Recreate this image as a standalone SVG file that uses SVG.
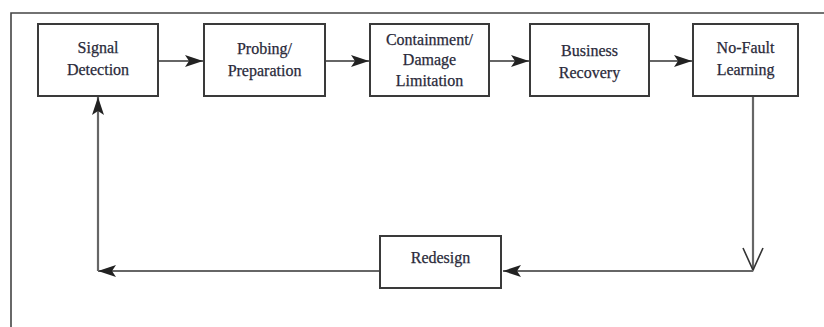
<svg xmlns="http://www.w3.org/2000/svg" width="824" height="327" viewBox="0 0 824 327">
<style>
.box{fill:#fff;stroke:#3a3a3a;stroke-width:2}
.lbl{font-family:"Liberation Serif","Times New Roman",serif;font-size:16px;fill:#2a2a3a;stroke:#2a2a3a;stroke-width:0.25;text-anchor:middle}
.con{fill:none;stroke:#666;stroke-width:2.2}
.frame{fill:none;stroke:#444;stroke-width:1.6}
</style>
<defs>
<marker id="ah" markerUnits="userSpaceOnUse" markerWidth="20" markerHeight="14" refX="18" refY="6" orient="auto">
<path d="M0,0 L18,6 L0,12 L4,6 z" fill="#222"/>
</marker>
</defs>
<rect width="824" height="327" fill="#fff"/>
<path class="frame" d="M11,327 V13 H824"/>
<g id="connectors">
<line class="con" x1="158" y1="61" x2="203" y2="61" marker-end="url(#ah)"/>
<line class="con" x1="325" y1="61" x2="369" y2="61" marker-end="url(#ah)"/>
<line class="con" x1="489" y1="61" x2="529" y2="61" marker-end="url(#ah)"/>
<line class="con" x1="649" y1="61" x2="692" y2="61" marker-end="url(#ah)"/>
<line class="con" x1="753" y1="96" x2="753" y2="270"/>
<path d="M743,248 L753,270 L763,248" fill="none" stroke="#333" stroke-width="1.6"/>
<line class="con" x1="753" y1="271" x2="503" y2="271" marker-end="url(#ah)"/>
<line class="con" x1="380" y1="271" x2="98" y2="271" marker-end="url(#ah)"/>
<line class="con" x1="98" y1="271" x2="98" y2="97" marker-end="url(#ah)"/>
</g>
<g id="signal-detection">
<rect class="box" x="38" y="24" width="120" height="72"/>
<text class="lbl" x="98" y="53">Signal</text>
<text class="lbl" x="98" y="75">Detection</text>
</g>
<g id="probing-preparation">
<rect class="box" x="204" y="24" width="121" height="72"/>
<text class="lbl" x="264.5" y="54">Probing/</text>
<text class="lbl" x="264.5" y="76">Preparation</text>
</g>
<g id="containment">
<rect class="box" x="370" y="24" width="119" height="72"/>
<text class="lbl" x="429.5" y="45">Containment/</text>
<text class="lbl" x="429.5" y="65">Damage</text>
<text class="lbl" x="429.5" y="86">Limitation</text>
</g>
<g id="business-recovery">
<rect class="box" x="530" y="24" width="119" height="72"/>
<text class="lbl" x="589.5" y="56">Business</text>
<text class="lbl" x="589.5" y="78">Recovery</text>
</g>
<g id="no-fault-learning">
<rect class="box" x="693" y="24" width="105" height="72"/>
<text class="lbl" x="745.5" y="53">No-Fault</text>
<text class="lbl" x="745.5" y="75">Learning</text>
</g>
<g id="redesign">
<rect class="box" x="380" y="236" width="121" height="52"/>
<text class="lbl" x="440.5" y="263">Redesign</text>
</g>
</svg>
